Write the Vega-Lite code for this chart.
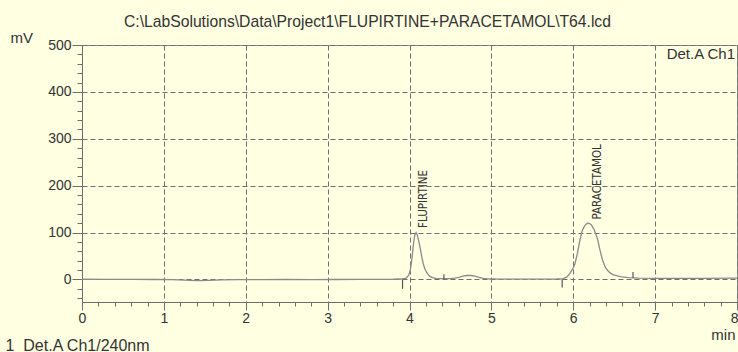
{
  "$schema": "https://vega.github.io/schema/vega-lite/v6.json",
  "width": 655,
  "height": 257,
  "autosize": {"type": "none"},
  "padding": {"left": 82, "top": 45, "right": 1, "bottom": 50},
  "background": "#FFFFE1",
  "config": {
    "view": {"stroke": "#8c8c8c", "strokeWidth": 1, "fill": "#FFFFE1"},
    "font": "Liberation Sans",
    "axis": {
      "domainColor": "#6e6e6e",
      "tickColor": "#6e6e6e",
      "labelColor": "#333333",
      "labelFont": "Liberation Sans",
      "labelFontSize": 14,
      "titleFont": "Liberation Sans",
      "titleFontWeight": "normal",
      "titleColor": "#333333",
      "titleFontSize": 15,
      "gridColor": "#6e6e6e",
      "gridDash": [5, 3],
      "gridWidth": 1
    }
  },
  "title": {
    "text": "C:\\LabSolutions\\Data\\Project1\\FLUPIRTINE+PARACETAMOL\\T64.lcd",
    "anchor": "start",
    "frame": "group",
    "dx": 42,
    "offset": -1,
    "font": "Liberation Sans",
    "fontSize": 15.7,
    "fontWeight": "normal",
    "color": "#333333"
  },
  "datasets": {
    "trace": [
      {"t": 0.0, "mv": 0.5}, {"t": 0.3, "mv": 0.3}, {"t": 0.6, "mv": 0.2}, {"t": 0.9, "mv": 0},
      {"t": 1.1, "mv": -0.5}, {"t": 1.25, "mv": -1.5}, {"t": 1.4, "mv": -2.5}, {"t": 1.55, "mv": -2},
      {"t": 1.7, "mv": -1}, {"t": 1.9, "mv": -0.5}, {"t": 2.2, "mv": -0.3}, {"t": 2.5, "mv": 0},
      {"t": 2.8, "mv": -0.2}, {"t": 3.1, "mv": 0}, {"t": 3.4, "mv": 0.2}, {"t": 3.6, "mv": 0.3},
      {"t": 3.8, "mv": 0.5}, {"t": 3.9, "mv": 1}, {"t": 3.96, "mv": 3}, {"t": 3.99, "mv": 9},
      {"t": 4.01, "mv": 20}, {"t": 4.03, "mv": 45}, {"t": 4.05, "mv": 78}, {"t": 4.065, "mv": 95},
      {"t": 4.08, "mv": 100}, {"t": 4.095, "mv": 95}, {"t": 4.11, "mv": 84}, {"t": 4.13, "mv": 68},
      {"t": 4.15, "mv": 48}, {"t": 4.17, "mv": 32}, {"t": 4.19, "mv": 22}, {"t": 4.21, "mv": 15},
      {"t": 4.23, "mv": 10}, {"t": 4.25, "mv": 6.5}, {"t": 4.28, "mv": 4}, {"t": 4.32, "mv": 2.5},
      {"t": 4.38, "mv": 2}, {"t": 4.45, "mv": 2}, {"t": 4.5, "mv": 2}, {"t": 4.55, "mv": 3},
      {"t": 4.6, "mv": 4.5}, {"t": 4.65, "mv": 7}, {"t": 4.7, "mv": 8.5}, {"t": 4.75, "mv": 8.5},
      {"t": 4.8, "mv": 7}, {"t": 4.85, "mv": 4.5}, {"t": 4.9, "mv": 2.5}, {"t": 4.95, "mv": 1.5},
      {"t": 5.05, "mv": 1}, {"t": 5.3, "mv": 0.8}, {"t": 5.6, "mv": 0.8}, {"t": 5.8, "mv": 1},
      {"t": 5.87, "mv": 1.5}, {"t": 5.92, "mv": 5}, {"t": 5.96, "mv": 13}, {"t": 6.0, "mv": 25},
      {"t": 6.02, "mv": 33}, {"t": 6.05, "mv": 55}, {"t": 6.08, "mv": 83}, {"t": 6.11, "mv": 104},
      {"t": 6.14, "mv": 115}, {"t": 6.17, "mv": 119.5}, {"t": 6.19, "mv": 120}, {"t": 6.22, "mv": 117},
      {"t": 6.25, "mv": 108}, {"t": 6.28, "mv": 95}, {"t": 6.3, "mv": 84}, {"t": 6.33, "mv": 60},
      {"t": 6.36, "mv": 40}, {"t": 6.39, "mv": 27}, {"t": 6.42, "mv": 19}, {"t": 6.45, "mv": 14},
      {"t": 6.49, "mv": 10}, {"t": 6.53, "mv": 8}, {"t": 6.57, "mv": 6}, {"t": 6.62, "mv": 5},
      {"t": 6.68, "mv": 4}, {"t": 6.73, "mv": 3.5}, {"t": 6.8, "mv": 3}, {"t": 7.0, "mv": 2.5},
      {"t": 7.3, "mv": 2.5}, {"t": 7.6, "mv": 2.5}, {"t": 8.0, "mv": 3}
    ],
    "markers": [
      {"t": 3.915, "y1": -20, "y2": 0},
      {"t": 4.42, "y1": 1, "y2": 11},
      {"t": 5.865, "y1": -17, "y2": 0},
      {"t": 6.73, "y1": 3, "y2": 16}
    ],
    "peaks": [
      {"t": 4.18, "mv": 110, "name": "FLUPIRTINE"},
      {"t": 6.3, "mv": 128, "name": "PARACETAMOL"}
    ],
    "channel": [
      {"t": 8, "mv": 500, "name": "Det.A Ch1"}
    ]
  },
  "layer": [
    {
      "data": {"name": "trace"},
      "mark": {"type": "line", "color": "#8a8a8a", "strokeWidth": 1.3, "clip": true},
      "encoding": {
        "x": {
          "field": "t", "type": "quantitative",
          "scale": {"domain": [0, 8], "nice": false, "zero": false},
          "axis": {
            "orient": "bottom",
            "values": [0, 1, 2, 3, 4, 5, 6, 7, 8],
            "format": "d",
            "tickSize": 8,
            "labelPadding": 1,
            "labelFlush": false,
            "labelOverlap": false,
            "labelAlign": {"condition": {"test": "datum.value == 8", "value": "right"}, "value": "center"},
            "labelOffset": {"condition": {"test": "datum.value == 8", "value": 1}, "value": 0},
            "grid": true,
            "title": "min",
            "titleX": 653,
            "titleY": 37,
            "titleAlign": "right",
            "titleBaseline": "alphabetic",
            "titleAnchor": null
          }
        },
        "y": {
          "field": "mv", "type": "quantitative",
          "scale": {"domain": [-48, 500], "nice": false, "zero": false},
          "axis": {
            "values": [0, 100, 200, 300, 400, 500],
            "tickSize": 10,
            "labelPadding": 1,
            "labelFlush": false,
            "labelOverlap": false,
            "grid": true,
            "title": "mV",
            "titleAngle": 0,
            "titleX": -72,
            "titleY": -3,
            "titleAlign": "left",
            "titleBaseline": "alphabetic",
            "titleAnchor": null
          }
        }
      }
    },
    {
      "data": {"name": "markers"},
      "mark": {"type": "rule", "color": "#555555", "strokeWidth": 1.2},
      "encoding": {
        "x": {
          "field": "t", "type": "quantitative",
          "axis": {
            "orient": "bottom",
            "values": [0.2, 0.4, 0.6, 0.8, 1.2, 1.4, 1.6, 1.8, 2.2, 2.4, 2.6, 2.8, 3.2, 3.4, 3.6, 3.8, 4.2, 4.4, 4.6, 4.8, 5.2, 5.4, 5.6, 5.8, 6.2, 6.4, 6.6, 6.8, 7.2, 7.4, 7.6, 7.8],
            "labels": false,
            "tickSize": 4,
            "domain": false,
            "grid": false,
            "title": "1\u00a0\u00a0Det.A Ch1/240nm",
            "titleFontSize": 16,
            "titleX": -77,
            "titleY": 48,
            "titleAlign": "left",
            "titleBaseline": "alphabetic",
            "titleAnchor": null
          }
        },
        "y": {
          "field": "y1", "type": "quantitative",
          "axis": {
            "orient": "left",
            "values": [-40, -20, 20, 40, 60, 80, 120, 140, 160, 180, 220, 240, 260, 280, 320, 340, 360, 380, 420, 440, 460, 480],
            "labels": false,
            "tickSize": 5,
            "domain": false,
            "grid": false,
            "title": null
          }
        },
        "y2": {"field": "y2"}
      }
    },
    {
      "data": {"name": "peaks"},
      "mark": {"type": "text", "angle": 270, "align": "left", "baseline": "middle", "font": "DejaVu Sans Condensed, Liberation Sans, sans-serif", "fontSize": 11.5, "color": "#333333"},
      "encoding": {
        "x": {"field": "t", "type": "quantitative", "axis": null},
        "y": {"field": "mv", "type": "quantitative", "axis": null},
        "text": {"field": "name"}
      }
    },
    {
      "data": {"name": "channel"},
      "mark": {"type": "text", "align": "right", "baseline": "top", "dx": -2, "dy": 2, "font": "Liberation Sans", "fontSize": 15, "color": "#333333"},
      "encoding": {
        "x": {"field": "t", "type": "quantitative", "axis": null},
        "y": {"field": "mv", "type": "quantitative", "axis": null},
        "text": {"field": "name"}
      }
    }
  ],
  "resolve": {"axis": {"x": "independent", "y": "independent"}}
}
